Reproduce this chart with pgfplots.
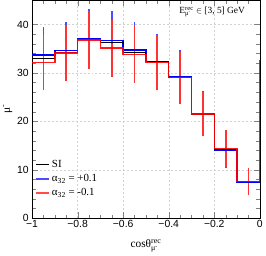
\documentclass[border=0pt]{standalone}
\usepackage{pgfplots}
\pgfplotsset{compat=1.18}
\usepackage{amsmath}
\usepackage{fontspec}
\setmainfont{Liberation Serif}
\newfontfamily\helv{Liberation Sans}
\begin{document}
\begin{tikzpicture}
\begin{axis}[
  width=230pt, height=220pt, scale only axis,
  xmin=-1, xmax=0, ymin=0, ymax=45,
  xtick={-1,-0.8,-0.6,-0.4,-0.2,0},
  xticklabels={−1,−0.8,−0.6,−0.4,−0.2,0},
  ytick={0,10,20,30,40},
  yticklabels={0,10,20,30,40},
  minor x tick num=3, minor y tick num=4,
  tick align=inside, tick pos=both,
  major tick length=6pt, minor tick length=3.5pt,
  ticklabel style={font=\helv\fontsize{10.5}{12}\selectfont},
  xticklabel style={yshift=1pt},
  grid=major,
  major grid style={gray!35, dash pattern=on 2pt off 2pt, line width=0.4pt},
  axis line style={black, line width=0.6pt},
  xlabel={cosθ$^{\text{rec}}_{\text{μ}^{\text{-}}}$},
  ylabel={μ$^{\text{-}}$},
  label style={font=\fontsize{11.5}{13}\selectfont},
  xlabel style={yshift=-5pt},
  ylabel style={yshift=-2pt},
  unbounded coords=jump,
  legend style={at={(axis cs:-0.99,12.6)}, anchor=north west, draw=none, fill=none,
    font=\fontsize{11}{12}\selectfont, row sep=1.5pt, inner sep=1pt},
  legend cell align=left,
  legend image code/.code={\draw[#1] (0pt,0pt) -- (13pt,0pt);},
]
% blue error bars (value -/+ sqrt(value))
\addplot[blue!70!white, line width=1.8pt, forget plot] coordinates {
  (-0.95,27.89) (-0.95,39.51) (nan,nan)
  (-0.85,28.72) (-0.85,40.48) (nan,nan)
  (-0.75,31.01) (-0.75,43.19) (nan,nan)
  (-0.65,30.64) (-0.65,42.76) (nan,nan)
  (-0.55,28.81) (-0.55,40.59) (nan,nan)
  (-0.45,26.71) (-0.45,38.09) (nan,nan)
  (-0.35,23.89) (-0.35,34.71) (nan,nan)
  (-0.25,16.95) (-0.25,26.25) (nan,nan)
  (-0.15,10.26) (-0.15,17.74) (nan,nan)
  (-0.05,4.68) (-0.05,10.12)
  };
% red error bars
\addplot[red!80!white, line width=1.8pt, forget plot] coordinates {
  (-0.95,26.53) (-0.95,37.87) (nan,nan)
  (-0.85,28.26) (-0.85,39.94) (nan,nan)
  (-0.75,30.73) (-0.75,42.87) (nan,nan)
  (-0.65,29.18) (-0.65,41.02) (nan,nan)
  (-0.55,27.99) (-0.55,39.61) (nan,nan)
  (-0.45,26.53) (-0.45,37.87) (nan,nan)
  (-0.35,23.61) (-0.35,34.39) (nan,nan)
  (-0.25,16.86) (-0.25,26.14) (nan,nan)
  (-0.15,10.61) (-0.15,18.19) (nan,nan)
  (-0.05,4.84) (-0.05,10.36)
  };
% blue histogram
\addplot[const plot, blue, line width=1.5pt, forget plot] coordinates {
  (-1,33.7) (-0.9,34.6) (-0.8,37.1) (-0.7,36.7) (-0.6,34.7)
  (-0.5,32.4) (-0.4,29.3) (-0.3,21.6) (-0.2,14.0) (-0.1,7.4) (0,7.4)
  };
% black histogram
\addplot[const plot, black, line width=1pt, forget plot] coordinates {
  (-1,33.0) (-0.9,34.2) (-0.8,36.9) (-0.7,36.3) (-0.6,34.2)
  (-0.5,32.3) (-0.4,29.1) (-0.3,21.5) (-0.2,14.2) (-0.1,7.5) (0,7.5)
  };
% red histogram
\addplot[const plot, red, line width=1.5pt, opacity=0.9, forget plot] coordinates {
  (-1,32.2) (-0.9,34.1) (-0.8,36.8) (-0.7,35.1) (-0.6,33.8)
  (-0.5,32.2) (-0.4,29.0) (-0.3,21.5) (-0.2,14.4) (-0.1,7.6) (0,7.6) (0,32.7)
  };
\addlegendimage{black, line width=1.2pt}
\addlegendentry{SI}
\addlegendimage{blue!70!white, line width=1.6pt}
\addlegendentry{α$_{\text{32}}$ = +0.1}
\addlegendimage{red!70!white, line width=1.6pt}
\addlegendentry{α$_{\text{32}}$ = -0.1}
\node[anchor=north east, font=\fontsize{9.5}{11}\selectfont, inner sep=1pt]
  at (rel axis cs:0.94,0.975) {E$^{\text{rec}}_{\text{μ}^{\text{-}}}$ $\in$ [3, 5] GeV};
\end{axis}
\end{tikzpicture}
\end{document}
